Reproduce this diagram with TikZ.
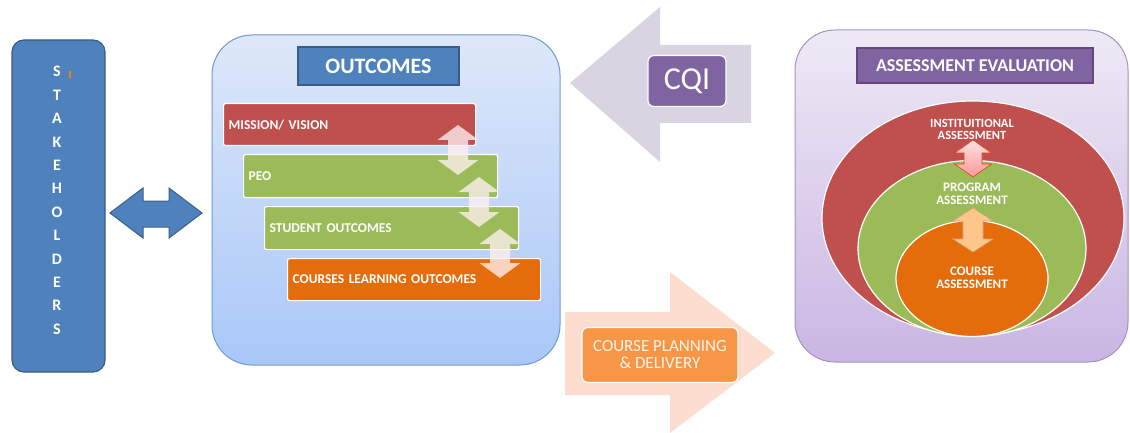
\documentclass[tikz,border=0pt]{standalone}
\usepackage{fontspec}
\setmainfont{Carlito}
\usetikzlibrary{shapes.geometric}
\definecolor{sblue}{HTML}{4F81BD}
\definecolor{sblueline}{HTML}{385D8A}
\definecolor{sred}{HTML}{C0504D}
\definecolor{sgreen}{HTML}{9BBB59}
\definecolor{sorange}{HTML}{E46C0A}
\definecolor{spurple}{HTML}{8064A2}
\definecolor{spurpleline}{HTML}{5F497A}
\definecolor{cqigrey}{HTML}{D9D4E2}
\definecolor{peach}{HTML}{FCDDD0}
\definecolor{lightorange}{HTML}{F79646}
\definecolor{outtop}{HTML}{DEE8F9}
\definecolor{outbottom}{HTML}{A8C7F8}
\definecolor{asstop}{HTML}{EFE9F6}
\definecolor{assbottom}{HTML}{C9B6E3}
% vertical two-headed block arrow: centre x, top, bottom, half width, half shaft, head, style
\newcommand{\vbiarrow}[7]{\draw[#7] (#1,#2) -- (#1+#4,#2+#6) -- (#1+#5,#2+#6) -- (#1+#5,#3-#6) -- (#1+#4,#3-#6) -- (#1,#3) -- (#1-#4,#3-#6) -- (#1-#5,#3-#6) -- (#1-#5,#2+#6) -- (#1-#4,#2+#6) -- cycle;}
\begin{document}
\begin{tikzpicture}[x=1pt,y=-1pt,
		level/.style = {draw=white, line width=1.2pt, rounded corners=2pt, anchor=north west, text=white, inner xsep=5pt, align=left, font=\bfseries\fontsize{13.5}{15}\selectfont},
		title/.style = {line width=1.5pt, text=white, font=\bfseries\fontsize{22}{24}\selectfont},
		tag/.style = {draw=white, line width=1.2pt, rounded corners=6pt, text=white, align=center},
		ring/.style = {ellipse, draw=white, line width=1.2pt, inner sep=0pt},
		ringtext/.style = {text=white, align=center, font=\bfseries\fontsize{13}{13}\selectfont}]
	\useasboundingbox (0,0) rectangle (1130,433);

	% stakeholders
	\node[draw=sblueline, fill=sblue, line width=1.2pt, rounded corners=12pt, minimum width=93, minimum height=332] (stake) at (58.5,206) {};
	\node[text=white, align=center, font=\bfseries\fontsize{16}{23.4}\selectfont] (stakeword) at (57,200.5) {S\\T\\A\\K\\E\\H\\O\\L\\D\\E\\R\\S};
	\draw[color=orange!80!brown, line width=1.3pt] (70,71) -- (70,78);
	\draw[fill=sblue, draw=sblueline, line width=1pt] (110,213) -- (143,188) -- (143,201) -- (169,201) -- (169,188) -- (202,213) -- (169,238) -- (169,227) -- (143,227) -- (143,238) -- cycle;

	% outcomes
	\node[draw=sblue!80, line width=1pt, rounded corners=40pt, top color=outtop, bottom color=outbottom, minimum width=348, minimum height=330] (outbox) at (386,200) {};
	\node[title, draw=sblueline, fill=sblue, minimum width=161, minimum height=38] (outtitle) at (378.5,66) {OUTCOMES};
	\node[level, fill=sred, minimum width=252, minimum height=42, text width=242] (mission) at (223,103) {MISSION/ VISION};
	\node[level, fill=sgreen, minimum width=254, minimum height=43, text width=244] (peo) at (243,154) {PEO};
	\node[level, fill=sgreen, minimum width=254, minimum height=43, text width=244] (so) at (264,206) {STUDENT OUTCOMES};
	\node[level, fill=sorange, minimum width=253, minimum height=42, text width=243] (clo) at (287,258) {COURSES LEARNING OUTCOMES};
	\vbiarrow{458}{125}{175}{20.5}{10}{15}{fill=red!6!white, fill opacity=0.78, draw=none}
	\vbiarrow{479}{177}{227}{20.5}{10}{15}{fill=red!6!white, fill opacity=0.78, draw=none}
	\vbiarrow{500}{229}{278}{20.5}{10}{15}{fill=red!6!white, fill opacity=0.78, draw=none}

	% cqi and course planning
	\draw[fill=cqigrey, draw=none] (570,83) -- (660,7) -- (660,45) -- (751,45) -- (751,123) -- (660,123) -- (660,162) -- cycle;
	\node[tag, fill=spurple, minimum width=78, minimum height=51, font=\fontsize{32}{34}\selectfont] (cqi) at (687,81) {CQI};
	\draw[fill=peach, draw=none] (565,312) -- (670,312) -- (670,272) -- (775,353) -- (670,433) -- (670,395) -- (565,395) -- cycle;
	\node[tag, fill=lightorange, minimum width=156, minimum height=55, text=orange!8!white, font=\fontsize{17}{17}\selectfont] (plan) at (660,355) {COURSE PLANNING\\\& DELIVERY};

	% assessment
	\node[draw=spurple!70, line width=1pt, rounded corners=40pt, top color=asstop, bottom color=assbottom, minimum width=333, minimum height=332] (assbox) at (961.5,196) {};
	\node[title, draw=spurpleline, fill=spurple, minimum width=236, minimum height=35, font=\bfseries\fontsize{18}{20}\selectfont] (asstitle) at (975,65.5) {ASSESSMENT EVALUATION};
	\node[ring, fill=sred, minimum width=302, minimum height=234] (inst) at (973,218) {};
	\node[ring, fill=sgreen, minimum width=228, minimum height=176] (prog) at (972,248.5) {};
	\node[ring, fill=sorange, minimum width=152, minimum height=116] (course) at (972,278.5) {};
	\node[ringtext, font=\bfseries\fontsize{12.5}{12}\selectfont] (insttext) at (972,129) {INSTITUITIONAL\\ASSESSMENT};
	\node[ringtext] (progtext) at (972,194) {PROGRAM\\ASSESSMENT};
	\node[ringtext] (coursetext) at (972,278) {COURSE\\ASSESSMENT};
	\vbiarrow{973}{140}{177}{18.5}{9}{13}{top color=red!12!white, bottom color=red!40!white, draw=red!50!brown, line width=0.6pt}
	\vbiarrow{973}{208}{252}{20}{10}{13}{fill=orange!45!white, draw=brown!70, line width=0.6pt}

\end{tikzpicture}
\end{document}
